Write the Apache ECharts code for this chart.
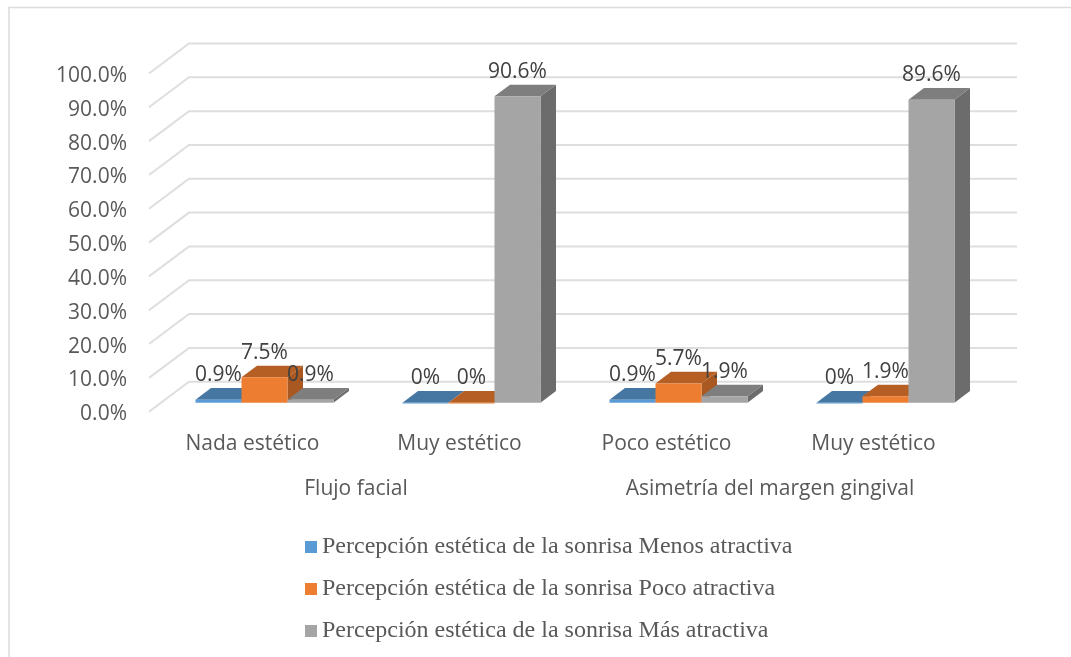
<!DOCTYPE html>
<html>
<head>
<meta charset="utf-8">
<style>
html, body { margin: 0; padding: 0; background: #fff; }
#chart { width: 1071px; height: 657px; }
</style>
<script src="https://cdn.jsdelivr.net/npm/echarts@6/dist/echarts.min.js"></script>
</head>
<body>
<div id="chart"></div>
<script>
const categories = ["Nada estético", "Muy estético", "Poco estético", "Muy estético"]
const groups = ["Flujo facial", "Asimetría del margen gingival"]
const seriesNames = [
  "Percepción estética de la sonrisa Menos atractiva",
  "Percepción estética de la sonrisa Poco atractiva",
  "Percepción estética de la sonrisa Más atractiva"
]
const menos = [0.9, 0, 0.9, 0]
const poco = [7.5, 0, 5.7, 1.9]
const mas = [0.9, 90.6, 1.9, 89.6]
const labelsMenos = ["0.9%", "0%", "0.9%", "0%"]
const labelsPoco = ["7.5%", "0%", "5.7%", "1.9%"]
const labelsMas = ["0.9%", "90.6%", "1.9%", "89.6%"]
const ticks = [0, 10, 20, 30, 40, 50, 60, 70, 80, 90, 100]

const FONT = "Open Sans"
const FONT_SIZE = 21
const TEXT = "#595959"
const WALL_DX = 40, WALL_DY = -30   // profundidad del fondo
const BAR_DX = 12, BAR_DY = -9      // cara frontal de la barra
const SIDE_DX = 15.5, SIDE_DY = -11.6
const BAR_W = 46

// lineas de la pared: diagonal desde el borde izquierdo y luego horizontal
function wallRender(params, api) {
  const y = api.coord([0, api.value(0)])[1]
  const left = params.coordSys.x
  const right = left + params.coordSys.width
  return {
    type: "polyline",
    shape: { points: [[left, y], [left + WALL_DX, y + WALL_DY], [right + WALL_DX, y + WALL_DY]] },
    style: { stroke: "#dedede", lineWidth: 2, fill: null },
    silent: true
  }
}

function barRender(idx, colors, labels) {
  return function (params, api) {
    const cat = api.value(0)
    const val = api.value(1)
    const base = api.coord([cat, 0])
    const top = api.coord([cat, val])
    const x0 = base[0] + BAR_DX + (idx - 1.5) * BAR_W
    const x1 = x0 + BAR_W
    const yb = base[1] + BAR_DY
    const yt = top[1] + BAR_DY
    const children = [
      { type: "polygon", shape: { points: [[x1, yb], [x1 + SIDE_DX, yb + SIDE_DY], [x1 + SIDE_DX, yt + SIDE_DY], [x1, yt]] }, style: { fill: colors.side } },
      { type: "polygon", shape: { points: [[x0, yt], [x1, yt], [x1 + SIDE_DX, yt + SIDE_DY], [x0 + SIDE_DX, yt + SIDE_DY]] }, style: { fill: colors.top } },
      { type: "rect", shape: { x: x0, y: yt, width: BAR_W, height: Math.max(yb - yt, 0.8) }, style: { fill: colors.front } },
      { type: "text", z2: 10, style: { text: labels[cat], x: x0 + BAR_W / 2, y: yt - 24.5, align: "center", verticalAlign: "middle", fill: "#404040", font: FONT_SIZE + "px '" + FONT + "'" } }
    ]
    return { type: "group", children }
  }
}

function barSeries(name, values, idx, colors, labels) {
  return {
    name,
    type: "custom",
    xAxisIndex: 0,
    yAxisIndex: 0,
    clip: false,
    z: 3 + idx,
    itemStyle: { color: colors.front },
    encode: { x: 0, y: 1 },
    renderItem: barRender(idx, colors, labels),
    data: values.map((v, i) => [i, v])
  }
}

const blue = { front: "#5b9bd5", top: "#4677a3", side: "#3f6b93" }
const orange = { front: "#ed7d31", top: "#b65f25", side: "#a95822" }
const gray = { front: "#a5a5a5", top: "#7e7e7e", side: "#6c6c6c" }

const chart = echarts.init(document.getElementById("chart"))
chart.setOption({
  animation: false,
  backgroundColor: "#ffffff",
  textStyle: { fontFamily: FONT },
  graphic: [{
    type: "polyline",
    silent: true,
    shape: { points: [[9, 657], [9, 7.5], [1071, 7.5]] },
    style: { fill: null, stroke: "#dcdcdc", lineWidth: 1.5 }
  }],
  grid: { left: 149, top: 73.5, width: 828, height: 338.2, containLabel: false },
  legend: {
    orient: "vertical",
    left: 300,
    top: 530,
    itemWidth: 12,
    itemHeight: 12,
    itemGap: 18,
    icon: "rect",
    data: seriesNames,
    textStyle: { fontFamily: "Liberation Serif", fontSize: 24, color: TEXT, height: 23.5, lineHeight: 23.5 }
  },
  xAxis: [{
    type: "category",
    data: categories,
    axisLine: { show: false },
    axisTick: { show: false },
    axisLabel: { fontFamily: FONT, fontSize: FONT_SIZE, color: TEXT, margin: 22, interval: 0 }
  }, {
    type: "category",
    data: groups,
    position: "bottom",
    offset: 67,
    axisLine: { show: false },
    axisTick: { show: false },
    axisLabel: { fontFamily: FONT, fontSize: FONT_SIZE, color: TEXT, margin: 0, interval: 0 }
  }],
  yAxis: {
    type: "value",
    min: 0,
    max: 100,
    interval: 10,
    axisLine: { show: false },
    axisTick: { show: false },
    splitLine: { show: false },
    axisLabel: { fontFamily: FONT, fontSize: FONT_SIZE, color: TEXT, margin: 22, lineHeight: 5, verticalAlign: "top", formatter: v => v.toFixed(1) + "%" }
  },
  series: [{
    type: "custom",
    name: "pared",
    silent: true,
    clip: false,
    z: 1,
    xAxisIndex: 0,
    yAxisIndex: 0,
    encode: { y: 0 },
    renderItem: wallRender,
    data: ticks.map(t => [t])
  },
    barSeries(seriesNames[0], menos, 0, blue, labelsMenos),
    barSeries(seriesNames[1], poco, 1, orange, labelsPoco),
    barSeries(seriesNames[2], mas, 2, gray, labelsMas)
  ]
})
</script>
</body>
</html>
